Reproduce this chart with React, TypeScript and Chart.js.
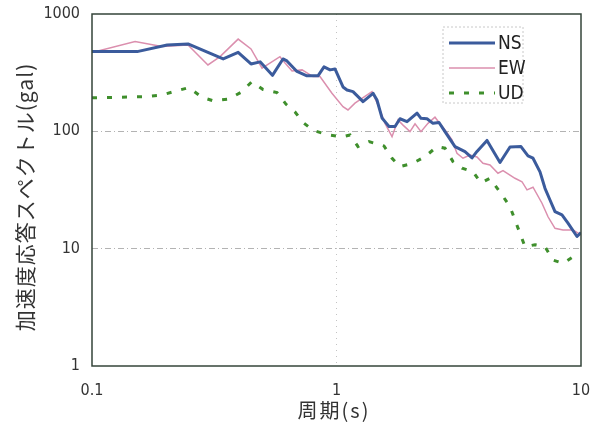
import { useEffect, useRef } from "react";
import { Chart, registerables } from "chart.js";

Chart.register(...registerables);

// Acceleration response spectra, period (s) vs. spectral acceleration (gal)
const nsPeriod = [0.1, 0.153, 0.203, 0.247, 0.344, 0.396, 0.447, 0.487, 0.547, 0.604, 0.627, 0.689, 0.757, 0.84, 0.889, 0.941, 0.986, 1.063, 1.104, 1.168, 1.284, 1.411, 1.464, 1.535, 1.579, 1.64, 1.735, 1.818, 1.943, 2.135, 2.216, 2.345, 2.481, 2.626, 2.778, 3.052, 3.354, 3.583, 3.755, 4.126, 4.664, 5.124, 5.683, 6.071, 6.364, 6.797, 7.125, 7.468, 7.828, 8.36, 8.847, 9.63, 10];
const nsAccel = [478, 478, 545, 556, 414, 471, 375, 391, 300, 414, 398, 324, 297, 297, 354, 334, 340, 239, 225, 218, 179, 211, 185, 130, 121, 110, 110, 128, 121, 143, 129, 128, 117, 119, 99.4, 74.1, 67.1, 59.3, 67.4, 83.6, 54.3, 73.6, 74.1, 61.7, 59, 45.1, 32.7, 26, 20.7, 19.4, 16.5, 12.7, 13.7];

const ewPeriod = [0.1, 0.15, 0.193, 0.247, 0.298, 0.334, 0.396, 0.447, 0.496, 0.587, 0.616, 0.658, 0.723, 0.801, 0.856, 0.958, 1.063, 1.114, 1.19, 1.271, 1.397, 1.478, 1.579, 1.687, 1.784, 1.871, 1.998, 2.095, 2.216, 2.367, 2.528, 2.626, 2.778, 2.968, 3.11, 3.291, 3.516, 3.755, 3.973, 4.244, 4.576, 4.797, 5.37, 5.737, 6.014, 6.364, 6.926, 7.33, 7.828, 8.44, 9.28, 10];
const ewAccel = [469, 582, 528, 545, 368, 433, 611, 504, 345, 433, 383, 327, 334, 293, 293, 211, 162, 152, 174, 191, 218, 168, 117, 90.1, 125, 113, 99.4, 116, 99.4, 117, 132, 119, 103, 84.5, 65.1, 59, 62.9, 60.5, 53.5, 51.7, 43.9, 46.2, 39.8, 37.2, 31.7, 33.4, 24.4, 18.7, 14.9, 14.4, 14.4, 13.1];

const udPeriod = [0.1, 0.128, 0.168, 0.193, 0.221, 0.249, 0.282, 0.313, 0.36, 0.407, 0.451, 0.501, 0.571, 0.622, 0.677, 0.73, 0.801, 0.923, 1.053, 1.136, 1.224, 1.358, 1.564, 1.687, 1.818, 2.055, 2.301, 2.576, 2.778, 2.996, 3.262, 3.617, 3.899, 4.244, 4.664, 5.124, 5.63, 5.902, 6.485, 7.125, 7.68, 8.44, 9.45];
const udAccel = [193, 195, 198, 204, 221, 236, 195, 182, 188, 215, 265, 227, 214, 170, 146, 119, 102, 93.2, 89.6, 93.2, 74.1, 81.7, 75.1, 59, 50, 53.5, 60.8, 74.1, 71.8, 55.2, 48.5, 45.3, 36.3, 39.8, 30.4, 22.8, 13.5, 10.4, 10.8, 10.4, 8, 7.5, 8.75];

const seriesNames = ["NS", "EW", "UD"];
const xTicks = [0.1, 1, 10];
const xTickLabels = ["0.1", "1", "10"];
const yTicks = [1, 10, 100, 1000];
const yTickLabels = ["1", "10", "100", "1000"];
const xTitle = "周期(s)";
const yTitle = "加速度応答スペクトル(gal)";

const narrowFont = "'Liberation Sans Narrow', 'DejaVu Sans Condensed', 'Liberation Sans', sans-serif";
const cjkFont = "'Noto Sans CJK JP', sans-serif";

const pairs = (xs: number[], ys: number[]) => xs.map((x, i) => ({ x, y: ys[i] }));

// Outer frame around the plotting area
const framePlugin = {
  id: "plotFrame",
  afterDatasetsDraw(chart: any) {
    const { ctx, chartArea: a } = chart;
    ctx.save();
    ctx.strokeStyle = "#34443a";
    ctx.lineWidth = 1.5;
    ctx.strokeRect(a.left, a.top, a.right - a.left, a.bottom - a.top);
    ctx.restore();
  },
};

// Boxed key in the upper right of the plot
const keyPlugin = {
  id: "seriesKey",
  afterDraw(chart: any) {
    const { ctx, chartArea: a } = chart;
    const boxL = a.right - 138;
    const boxT = a.top + 13;
    const boxW = 80;
    const boxH = 76;
    ctx.save();
    ctx.strokeStyle = "#c8c8c8";
    ctx.lineWidth = 1;
    ctx.setLineDash([2, 2]);
    ctx.strokeRect(boxL, boxT, boxW, boxH);
    chart.data.datasets.forEach((ds: any, i: number) => {
      const y = boxT + 16 + i * 25;
      ctx.setLineDash(ds.borderDash || []);
      ctx.strokeStyle = ds.borderColor;
      ctx.lineWidth = ds.borderWidth;
      ctx.beginPath();
      ctx.moveTo(boxL + 6, y);
      ctx.lineTo(boxL + 52, y);
      ctx.stroke();
      ctx.setLineDash([]);
      ctx.fillStyle = "#222";
      ctx.font = `19px ${narrowFont}`;
      ctx.textBaseline = "middle";
      ctx.textAlign = "left";
      ctx.fillText(ds.label, boxL + 55, y + 1);
    });
    ctx.restore();
  },
};

// Axis titles
const titlePlugin = {
  id: "axisTitles",
  afterDraw(chart: any) {
    const { ctx } = chart;
    ctx.save();
    ctx.fillStyle = "#333";
    ctx.textAlign = "center";
    ctx.textBaseline = "middle";
    ctx.font = `20px ${cjkFont}`;
    (ctx as any).letterSpacing = "2px";
    ctx.fillText(xTitle, 334, 410);
    ctx.translate(25, 197);
    ctx.rotate(-Math.PI / 2);
    ctx.font = `21px ${cjkFont}`;
    (ctx as any).letterSpacing = "1px";
    ctx.fillText(yTitle, 0, 0);
    ctx.restore();
  },
};

// Tick labels may overhang the plot edges; the outer padding alone sets the plot box
const noOverhang = (s: any) => {
  s.paddingTop = 0;
  s.paddingBottom = 0;
  s.paddingLeft = 0;
  s.paddingRight = 0;
};

export default function App() {
  const canvasRef = useRef<HTMLCanvasElement | null>(null);

  useEffect(() => {
    const canvas = canvasRef.current;
    if (!canvas) return;
    const chart = new Chart(canvas, {
      type: "line",
      data: {
        datasets: [
          {
            label: seriesNames[0],
            data: pairs(nsPeriod, nsAccel),
            borderColor: "#3b5b9c",
            borderWidth: 3,
            pointRadius: 0,
            tension: 0,
            borderJoinStyle: "round",
            order: 0,
          },
          {
            label: seriesNames[1],
            data: pairs(ewPeriod, ewAccel),
            borderColor: "#db8fae",
            borderWidth: 1.5,
            pointRadius: 0,
            tension: 0,
            order: 1,
          },
          {
            label: seriesNames[2],
            data: pairs(udPeriod, udAccel),
            borderColor: "#3f8f2c",
            borderWidth: 3,
            borderDash: [5, 10],
            pointRadius: 0,
            tension: 0,
            order: 2,
          },
        ],
      },
      options: {
        responsive: false,
        animation: false,
        parsing: false as any,
        layout: { padding: { top: 14, right: 14, left: 0, bottom: 0 } },
        plugins: {
          legend: { display: false },
          tooltip: { enabled: false },
        },
        scales: {
          x: {
            type: "logarithmic",
            min: 0.1,
            max: 10,
            afterBuildTicks: (s: any) => {
              s.ticks = xTicks.map((v) => ({ value: v }));
            },
            afterFit: (s: any) => {
              s.height = 59;
              noOverhang(s);
            },
            ticks: {
              padding: 15,
              color: "#333",
              font: { family: narrowFont, size: 16 },
              maxRotation: 0,
              callback: (v: any) => xTickLabels[xTicks.indexOf(Number(v))] ?? "",
            },
            grid: {
              drawTicks: false,
              color: (c: any) => (c.tick && c.tick.value === 1 ? "rgba(170,170,170,0.7)" : "transparent"),
              lineWidth: 1,
            },
            border: { display: false, dash: [1, 5] },
          },
          y: {
            type: "logarithmic",
            min: 1,
            max: 1000,
            afterBuildTicks: (s: any) => {
              s.ticks = yTicks.map((v) => ({ value: v }));
            },
            afterFit: (s: any) => {
              s.width = 92;
              noOverhang(s);
            },
            ticks: {
              padding: 12,
              color: "#333",
              font: { family: narrowFont, size: 16 },
              callback: (v: any) => yTickLabels[yTicks.indexOf(Number(v))] ?? "",
            },
            grid: {
              drawTicks: false,
              color: (c: any) =>
                c.tick && (c.tick.value === 10 || c.tick.value === 100) ? "rgba(160,160,160,0.8)" : "transparent",
              lineWidth: 1,
            },
            border: { display: false, dash: [6, 3, 1, 3] },
          },
        },
      },
      plugins: [framePlugin, keyPlugin, titlePlugin],
    });
    return () => chart.destroy();
  }, []);

  return (
    <div style={{ position: "fixed", left: 0, top: 0, width: 595, height: 425, background: "#fff" }}>
      <canvas ref={canvasRef} width={595} height={425} style={{ display: "block" }} />
    </div>
  );
}
